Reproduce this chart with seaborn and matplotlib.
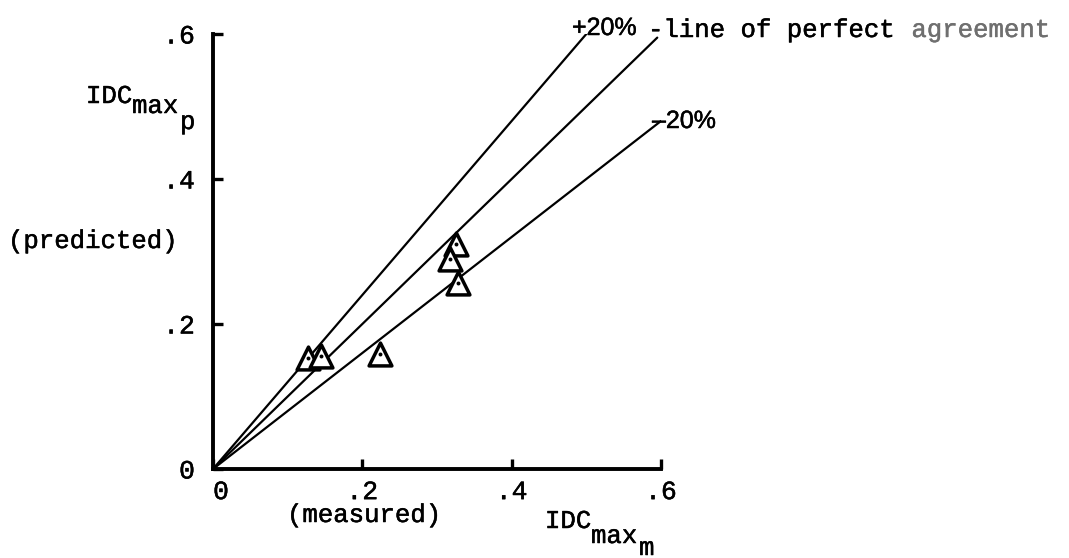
import numpy as np
import pandas as pd
import matplotlib
matplotlib.use("Agg")
import matplotlib.pyplot as plt
import matplotlib.transforms as mtransforms
import matplotlib.patheffects as pe
import seaborn as sns

# Measured vs. predicted maximum distortion index
idc_measured = [0.127, 0.145, 0.223, 0.326, 0.318, 0.328]
idc_predicted = [0.153, 0.156, 0.159, 0.311, 0.289, 0.256]

# Reference lines y = k * x and the x-extent of each
ref_slopes = [1.2, 1.0, 0.8]
ref_x_end = [0.5, 0.595, 0.6]

tick_values = [0, 0.2, 0.4, 0.6]
tick_labels = ["0", ".2", ".4", ".6"]

sns.set_theme(style="white")
plt.rcParams["font.family"] = ["Liberation Mono", "DejaVu Sans"]
plt.rcParams["text.color"] = "black"

W, H = 1069, 558
fig = plt.figure(figsize=(W / 100, H / 100), dpi=100)
ax = fig.add_axes([213 / W, 1 - 469 / H, (661 - 213) / W, (469 - 34) / H])

# slightly heavier strokes for typewritten lettering
ink = [pe.withStroke(linewidth=0.35, foreground="black")]
ink_grey = [pe.withStroke(linewidth=0.3, foreground="#6f6f6f")]


def px(x, y):
    return x / W, 1 - y / H


# reference lines
for k, xe in zip(ref_slopes, ref_x_end):
    xs = np.array([0.0, xe])
    line_df = pd.DataFrame({"x": xs, "y": k * xs})
    sns.lineplot(data=line_df, x="x", y="y", ax=ax, color="black",
                 linewidth=1.6, solid_capstyle="round")

# data points: open triangles with a dot inside
pts = pd.DataFrame({"m": idc_measured, "p": idc_predicted})
sns.scatterplot(data=pts, x="m", y="p", ax=ax, marker="^", s=270,
                facecolor="white", edgecolor="black", linewidth=2.5, zorder=5)
sns.scatterplot(data=pts, x="m", y="p", ax=ax, marker="o", s=8,
                color="black", edgecolor="black", linewidth=0, zorder=6)

ax.set_xlim(0, 0.6)
ax.set_ylim(0, 0.6)
ax.set_xlabel("")
ax.set_ylabel("")
ax.set_xticks(tick_values)
ax.set_xticklabels(tick_labels)
ax.set_yticks(tick_values)
ax.set_yticklabels(tick_labels)
for side in ["top", "right"]:
    ax.spines[side].set_visible(False)
for side in ["left", "bottom"]:
    ax.spines[side].set_linewidth(2.8)
    ax.spines[side].set_color("black")
ax.tick_params(axis="both", direction="in", length=7, width=2.4,
               color="black", labelsize=19, labelcolor="black",
               bottom=True, left=True)
ax.tick_params(axis="y", pad=13)
ax.tick_params(axis="x", pad=8)
ax.patch.set_alpha(0)
for lab in ax.get_xticklabels() + ax.get_yticklabels():
    lab.set_path_effects(ink)

# nudge the x-axis "0" a little to the right of the corner
first = ax.get_xticklabels()[0]
first.set_transform(first.get_transform() +
                    mtransforms.ScaledTranslation(8 / 100, 0, fig.dpi_scale_trans))

fs = 18.5


def label(x, y, s, **kw):
    kw.setdefault("fontsize", fs)
    kw.setdefault("va", "baseline")
    kw.setdefault("ha", "left")
    kw.setdefault("path_effects", ink)
    return fig.text(*px(x, y), s, **kw)


# y-axis label
label(86, 103, "IDC")
label(132, 113, "max")
label(180, 129, "p")
label(8, 248, "(predicted)")

# x-axis label
label(545, 528, "IDC")
label(591, 543, "max")
label(639, 555, "m")
label(287, 522, "(measured)")

# line labels
sans = ["Liberation Sans", "DejaVu Sans"]
label(572, 35, "+20%", fontsize=18, family=sans)
label(652, 128, "\u201320%", fontsize=18, family=sans)
t1 = label(648, 42, "-line of perfect", va="bottom")
ax.annotate("agreement", xy=(1, 0), xycoords=t1, xytext=(fs * 0.6, 0),
            textcoords="offset points", fontsize=fs, va="bottom", ha="left",
            color="#6f6f6f", annotation_clip=False, path_effects=ink_grey)

fig.savefig("out.png", dpi=100, facecolor="white")
